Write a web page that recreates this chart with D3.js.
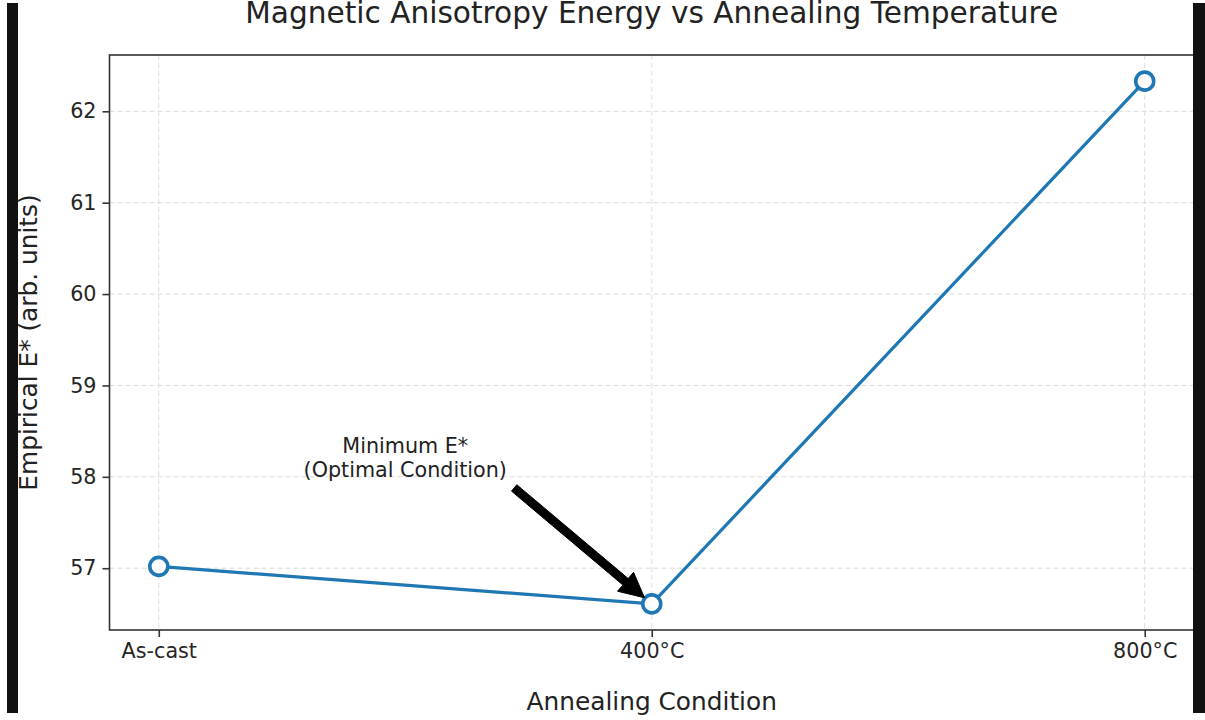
<!DOCTYPE html>
<html>
<head>
<meta charset="utf-8">
<script src="https://cdn.jsdelivr.net/npm/d3@7"></script>
<style>
  body { margin: 0; background: #fff; }
  svg { display: block; font-family: "DejaVu Sans", sans-serif; }
</style>
</head>
<body>
<svg id="chart" width="1205" height="720"></svg>
<script>
// data
var conditions = ["As-cast", "400\u00b0C", "800\u00b0C"];
var energy = [57.02, 56.61, 62.33];
var yTicks = [57, 58, 59, 60, 61, 62];
var annotLines = ["Minimum E*", "(Optimal Condition)"];
var annotText = { x: 0.5, y: 58.0 };   // text anchor in data units (category index, E*)
var annotTarget = 1;                     // index of the annotated point

var svg = d3.select("#chart"),
  margin = { top: 55, right: 11, bottom: 90, left: 109.5 },
  width = 1205 - margin.left - margin.right,
  height = 720 - margin.top - margin.bottom;

var ext = d3.extent(energy), pad = (ext[1] - ext[0]) * 0.05;
var x = d3.scaleLinear().domain([-0.1, conditions.length - 1 + 0.1]).range([0, width]);
var y = d3.scaleLinear().domain([ext[0] - pad, ext[1] + pad]).range([height, 0]);

var g = svg.append("g").attr("transform", "translate(" + margin.left + "," + margin.top + ")");

//----- grid
g.selectAll(".hgrid").data(yTicks).join("line").attr("class", "hgrid")
  .attr("x1", 0).attr("x2", width).attr("y1", d => y(d)).attr("y2", d => y(d))
  .attr("stroke", "#dcdcdc").attr("stroke-width", 1).attr("stroke-dasharray", "5,3");
g.selectAll(".vgrid").data(conditions).join("line").attr("class", "vgrid")
  .attr("y1", 0).attr("y2", height).attr("x1", (d, i) => x(i)).attr("x2", (d, i) => x(i))
  .attr("stroke", "#dcdcdc").attr("stroke-width", 1).attr("stroke-dasharray", "5,3");

//----- axes
var yAxis = g.append("g")
  .call(d3.axisLeft(y).tickValues(yTicks).tickSize(7).tickPadding(6).tickFormat(d3.format("d")));
var xAxis = g.append("g").attr("transform", "translate(0," + height + ")")
  .call(d3.axisBottom(x).tickValues(d3.range(conditions.length)).tickSize(7).tickPadding(6)
    .tickFormat(i => conditions[i]));
[xAxis, yAxis].forEach(a => {
  a.select(".domain").remove();
  a.selectAll(".tick line").attr("stroke", "#333").attr("stroke-width", 1.6);
  a.selectAll(".tick text").attr("fill", "#262626").style("font-size", "20.7px")
    .style("font-family", "DejaVu Sans");
});

// frame
g.append("rect").attr("width", width).attr("height", height)
  .attr("fill", "none").attr("stroke", "#333").attr("stroke-width", 1.6);

//----- line + markers
var line = d3.line().x((d, i) => x(i)).y(d => y(d));
g.append("path").datum(energy).attr("d", line)
  .attr("fill", "none").attr("stroke", "#1f77b4").attr("stroke-width", 3.2);
g.selectAll(".pt").data(energy).join("circle").attr("class", "pt")
  .attr("cx", (d, i) => x(i)).attr("cy", d => y(d)).attr("r", 9)
  .attr("fill", "#fff").attr("stroke", "#1f77b4").attr("stroke-width", 3.6);

//----- annotation
var at = g.append("text").attr("text-anchor", "middle").style("font-size", "20.7px").attr("fill", "#222");
annotLines.forEach((t, i) => {
  at.append("tspan").attr("x", x(annotText.x))
    .attr("y", y(annotText.y) - (annotLines.length - 1 - i) * 24).text(t);
});
var bb = at.node().getBBox();
var px = x(annotTarget), py = y(energy[annotTarget]);
// closest corner of the text box, like matplotlib does
var cx = [bb.x, bb.x + bb.width / 2, bb.x + bb.width].reduce((a, b) => Math.abs(b - px) < Math.abs(a - px) ? b : a);
var cy = [bb.y, bb.y + bb.height / 2, bb.y + bb.height].reduce((a, b) => Math.abs(b - py) < Math.abs(a - py) ? b : a);
var dx = px - cx, dy = py - cy, len = Math.sqrt(dx * dx + dy * dy);
var ux = dx / len, uy = dy / len, nx = -uy, ny = ux;
var x0 = cx + ux * len * 0.05, y0 = cy + uy * len * 0.05;
var x1 = px - ux * len * 0.05, y1 = py - uy * len * 0.05;
var sw = 8.3 / 2, hw = 24.8 / 2, hl = 24.8;
var bx = x1 - ux * hl, by = y1 - uy * hl;
var arrowPts = [
  [x0 + nx * sw, y0 + ny * sw], [bx + nx * sw, by + ny * sw], [bx + nx * hw, by + ny * hw],
  [x1, y1],
  [bx - nx * hw, by - ny * hw], [bx - nx * sw, by - ny * sw], [x0 - nx * sw, y0 - ny * sw]
];
g.append("path").attr("d", "M" + arrowPts.map(p => p.join(",")).join("L") + "Z")
  .attr("fill", "#000").attr("stroke", "#000").attr("stroke-width", 1);

//----- titles
svg.append("text").attr("x", margin.left + width / 2).attr("y", 23).attr("text-anchor", "middle")
  .style("font-size", "29.6px").attr("fill", "#222").text("Magnetic Anisotropy Energy vs Annealing Temperature");
svg.append("text").attr("x", margin.left + width / 2).attr("y", 710).attr("text-anchor", "middle")
  .style("font-size", "24.8px").attr("fill", "#222").text("Annealing Condition");
svg.append("text").attr("transform", "translate(37," + (margin.top + height / 2) + ") rotate(-90)")
  .attr("text-anchor", "middle").style("font-size", "24.8px").attr("fill", "#222")
  .text("Empirical E* (arb. units)");

//----- dark side bars of the screenshot
svg.selectAll(".edge").data([7, 1193]).join("rect").attr("class", "edge")
  .attr("x", d => d).attr("y", 3).attr("width", d => d < 600 ? 11 : 12).attr("height", 710)
  .attr("fill", "#111");
</script>
</body>
</html>
